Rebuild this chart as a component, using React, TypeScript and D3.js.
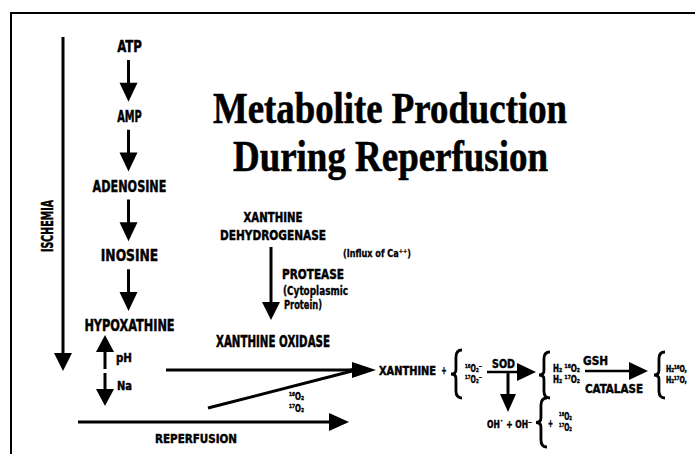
import React, { useEffect } from "react";
import * as d3 from "d3";

// text content of the diagram
const titleLines = ["Metabolite Production", "During Reperfusion"];
const chain = ["ATP", "AMP", "ADENOSINE", "INOSINE", "HYPOXATHINE"];
const enzymeFrom = ["XANTHINE", "DEHYDROGENASE"];
const proteaseNote = ["(Cytoplasmic", "Protein)"];
const oxygenPair = ["\u00B9\u2076O\u2082", "\u00B9\u2077O\u2082"];
const superoxides = ["\u00B9\u2076O\u2082\u207B", "\u00B9\u2077O\u2082\u207B"];
const peroxides = ["H\u2082 \u00B9\u2076O\u2082", "H\u2082 \u00B9\u2077O\u2082"];
const waters = ["H\u2082\u00B9\u2076O,", "H\u2082\u00B9\u2077O,"];

const W = 695;
const H = 454;
const sans = "'DejaVu Sans Condensed', 'Liberation Sans Narrow', 'DejaVu Sans', sans-serif";

const line = d3.line<[number, number]>();

function Arrow({ x1, y1, x2, y2, head = 17, half = 9, w = 3 }: any) {
  const dx = x2 - x1, dy = y2 - y1;
  const len = Math.hypot(dx, dy);
  const ux = dx / len, uy = dy / len;
  const bx = x2 - ux * head, by = y2 - uy * head;
  const px = -uy * half, py = ux * half;
  return (
    <g>
      <path d={line([[x1, y1], [bx + ux * 2, by + uy * 2]]) || ""} stroke="#000" strokeWidth={w} fill="none" />
      <path d={(line([[x2, y2], [bx + px, by + py], [bx - px, by - py]]) || "") + "Z"} fill="#000" />
    </g>
  );
}

function Brace({ x, y0, y1, w = 11 }: any) {
  const h = y1 - y0, mid = (y0 + y1) / 2, s = x - w * 0.55;
  const p = d3.path();
  p.moveTo(x, y0);
  p.quadraticCurveTo(s, y0, s, y0 + h * 0.15);
  p.lineTo(s, mid - h * 0.09);
  p.quadraticCurveTo(s, mid, x - w, mid);
  p.quadraticCurveTo(s, mid, s, mid + h * 0.09);
  p.lineTo(s, y1 - h * 0.15);
  p.quadraticCurveTo(s, y1, x, y1);
  return <path d={p.toString()} stroke="#000" strokeWidth={2.8} fill="none" />;
}

function Label({ x, y, text, size = 13, w, anchor = "start", weight = 700, thick = 0.45 }: any) {
  return (
    <text x={x} y={y} fontSize={size} fontWeight={weight} fontFamily={sans} textAnchor={anchor}
      textLength={w} lengthAdjust={w ? "spacingAndGlyphs" : undefined} fill="#000"
      stroke="#000" strokeWidth={thick}>
      {text}
    </text>
  );
}

export default function App() {
  useEffect(() => {
    document.body.style.margin = "0";
  }, []);

  const chainY = d3.scalePoint<string>().domain(chain).range([52, 331]);
  const chainX = 129.5;
  const stackY = d3.scalePoint<number>().domain([0, 1]).range([372, 383]);

  return (
    <svg width={W} height={H} style={{ position: "absolute", left: 0, top: 0, background: "#fff" }}>
      <rect width={W} height={H} fill="#fff" />
      {/* frame */}
      <path d={line([[10, 13], [W, 13]]) || ""} stroke="#000" strokeWidth={2} />
      <path d={line([[11, 13], [11, H]]) || ""} stroke="#000" strokeWidth={2} />

      {/* title */}
      {titleLines.map((t, i) => (
        <text key={t} x={i === 0 ? 213 : 233} y={i === 0 ? 123 : 171} fontSize={44} fontWeight={700}
          fontFamily="'Liberation Serif', 'DejaVu Serif', serif" textLength={i === 0 ? 354 : 315}
          lengthAdjust="spacingAndGlyphs" fill="#000" stroke="#000" strokeWidth={0.6}>{t}</text>
      ))}

      {/* ischemia */}
      <Arrow x1={63} y1={37} x2={63} y2={371} head={18} half={9} w={3} />
      <text transform="translate(53,226) rotate(-90)" fontSize={15} fontWeight={700} fontFamily={sans}
        textAnchor="middle" textLength={52} lengthAdjust="spacingAndGlyphs" stroke="#000" strokeWidth={0.45}>ISCHEMIA</text>

      {/* purine chain */}
      {chain.map((c) => (
        <Label key={c} x={chainX} y={chainY(c)} text={c} size={16} anchor="middle" w={c.length * 8.2} />
      ))}
      {chain.slice(0, -1).map((c, i) => (
        <Arrow key={c} x1={128.5} y1={(chainY(c) as number) + 8} x2={128.5}
          y2={(chainY(chain[i + 1]) as number) - 20} head={19} half={9} w={3} />
      ))}

      {/* pH / Na */}
      <Arrow x1={105} y1={369} x2={105} y2={335} head={17} half={9} w={3} />
      <Label x={116} y={362} text="pH" size={13} w={16} />
      <Arrow x1={105} y1={373} x2={105} y2={406} head={17} half={9} w={3} />
      <Label x={117} y={390} text="Na" size={13} w={15} />

      {/* xanthine dehydrogenase -> oxidase */}
      <Label x={273} y={222} text={enzymeFrom[0]} size={13.5} anchor="middle" w={59} />
      <Label x={273} y={240} text={enzymeFrom[1]} size={14} anchor="middle" w={106} />
      <Arrow x1={271} y1={247} x2={271} y2={320} head={18} half={9} w={3} />
      <Label x={343} y={257} text={"(Influx of Ca\u207A\u207A)"} size={11} w={68} weight={600} thick={0.3} />
      <Label x={282} y={279} text="PROTEASE" size={14} w={62} />
      <Label x={283} y={295} text={proteaseNote[0]} size={11.5} w={65} weight={600} thick={0.3} />
      <Label x={284} y={309} text={proteaseNote[1]} size={11.5} w={38} weight={600} thick={0.3} />
      <Label x={216} y={347} text="XANTHINE OXIDASE" size={15} w={114} />

      {/* converging arrows into xanthine */}
      <path d={line([[166, 370], [356, 370]]) || ""} stroke="#000" strokeWidth={3} />
      <path d={line([[208, 408], [356, 370]]) || ""} stroke="#000" strokeWidth={3} />
      <Arrow x1={350} y1={370} x2={376} y2={370} head={24} half={8} w={3} />
      {oxygenPair.map((t, i) => (
        <Label key={t} x={289} y={400 + i * 12} text={t} size={10.5} w={15} />
      ))}

      {/* reperfusion */}
      <Arrow x1={78} y1={422} x2={349} y2={422} head={20} half={9} w={3} />
      <Label x={155} y={443} text="REPERFUSION" size={13} w={82} />

      {/* reaction chain */}
      <Label x={379} y={375} text="XANTHINE" size={12} w={57} />
      <Label x={441.5} y={374} text="+" size={10} w={5} />
      <Brace x={462} y0={350} y1={398} />
      {superoxides.map((t, i) => (
        <Label key={t} x={465} y={stackY(i)} text={t} size={10.5} w={17} />
      ))}
      <Label x={492} y={368} text="SOD" size={12} w={23} />
      <Arrow x1={487} y1={372} x2={536} y2={372} head={19} half={9} w={2.5} />
      <Arrow x1={508} y1={373} x2={508} y2={412} head={18} half={8} w={3} />
      <Label x={487} y={428} text={"OH\u02D9 + OH\u207B"} size={11} w={45} />
      <Brace x={547} y0={398} y1={447} />
      <Label x={548} y={427} text="+" size={10} w={5} />
      {oxygenPair.map((t, i) => (
        <Label key={t} x={559} y={420 + i * 11} text={t} size={10.5} w={13} />
      ))}

      <Brace x={550} y0={352} y1={398} />
      {peroxides.map((t, i) => (
        <Label key={t} x={553} y={stackY(i)} text={t} size={10.5} w={27} />
      ))}
      <Label x={583} y={365} text="GSH" size={13} w={25} />
      <Arrow x1={585} y1={371} x2={648} y2={371} head={19} half={9} w={2.5} />
      <Label x={585} y={393} text="CATALASE" size={13} w={58} />
      <Brace x={665} y0={352} y1={398} />
      {waters.map((t, i) => (
        <Label key={t} x={666} y={stackY(i)} text={t} size={8.5} w={21} />
      ))}
    </svg>
  );
}
